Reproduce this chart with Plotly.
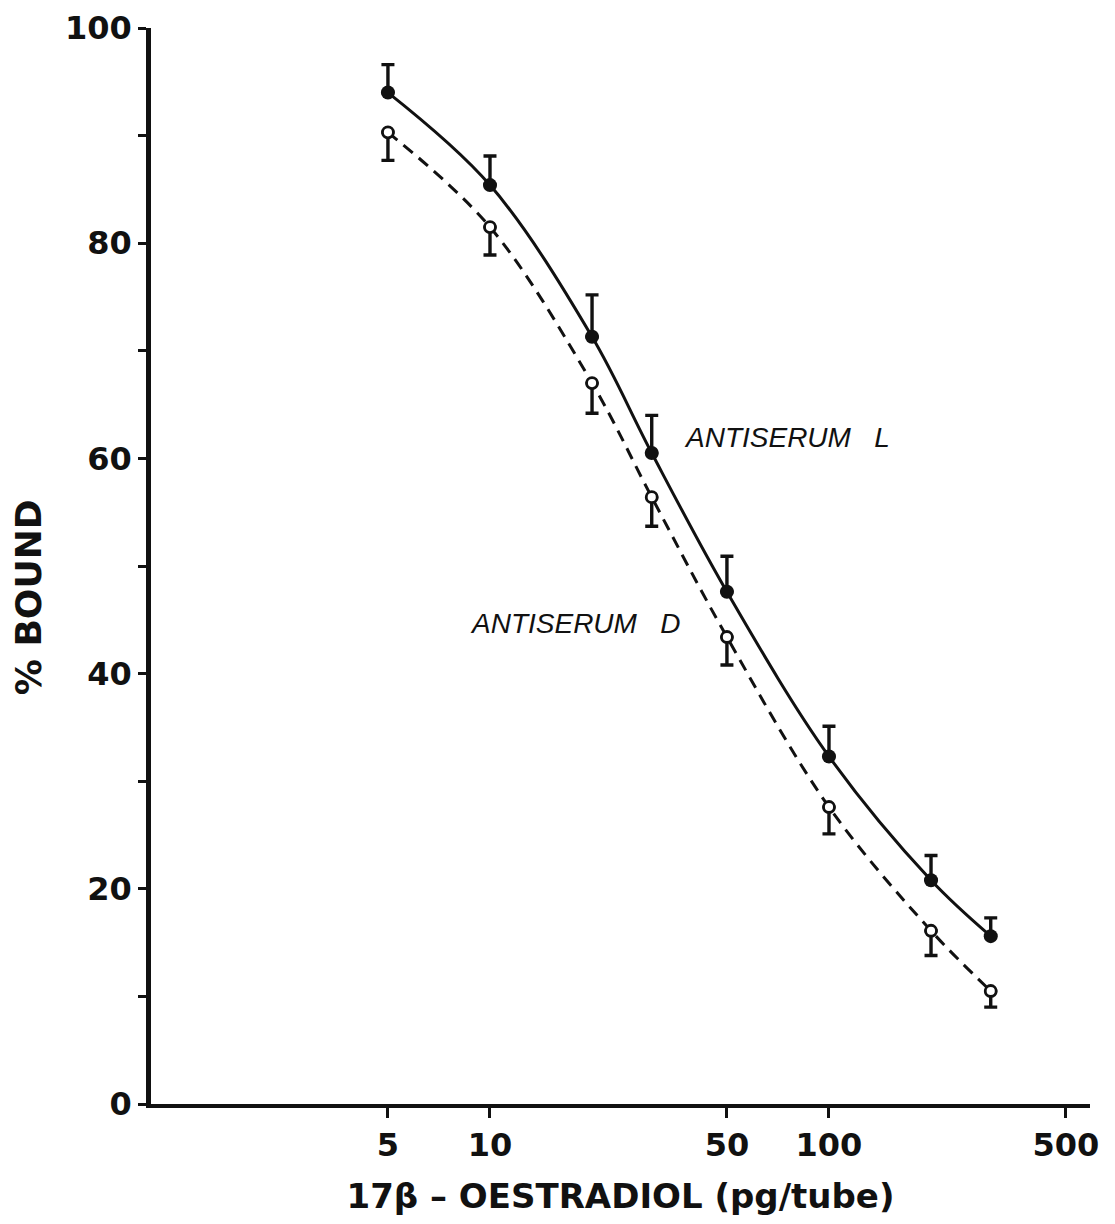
import plotly.graph_objects as go

# ---- data ----
dose = [5, 10, 20, 30, 50, 100, 200, 300]          # pg/tube
bound_L = [94.0, 85.4, 71.3, 60.5, 47.6, 32.3, 20.8, 15.6]   # Antiserum L (% bound)
err_L = [2.6, 2.7, 3.9, 3.5, 3.3, 2.8, 2.3, 1.7]
bound_D = [90.3, 81.5, 67.0, 56.4, 43.4, 27.6, 16.1, 10.5]   # Antiserum D (% bound)
err_D = [2.6, 2.6, 2.8, 2.7, 2.6, 2.5, 2.3, 1.5]

x_tick_vals = [5, 10, 50, 100, 500]
x_tick_text = ["5", "10", "50", "100", "500"]
y_tick_vals = [0, 10, 20, 30, 40, 50, 60, 70, 80, 90, 100]
y_tick_text = ["0", "", "20", "", "40", "", "60", "", "80", "", "100"]

label_L = "ANTISERUM\u00a0\u00a0\u00a0L"
label_D = "ANTISERUM\u00a0\u00a0\u00a0D"
x_title = "17\u03b2 \u2013 OESTRADIOL (pg/tube)"
y_title = "% BOUND"

INK = "#111111"
BOLD = dict(family="DejaVu Sans", color=INK, weight="bold")

fig = go.Figure()

fig.add_trace(go.Scatter(
    x=dose, y=bound_L, mode="lines+markers", name="Antiserum L",
    line=dict(color=INK, width=3, shape="spline", smoothing=1.0),
    marker=dict(symbol="circle", size=14, color=INK),
    error_y=dict(type="data", symmetric=False, array=err_L,
                 arrayminus=[0] * len(err_L), color=INK, thickness=3.4, width=6.5),
))

fig.add_trace(go.Scatter(
    x=dose, y=bound_D, mode="lines+markers", name="Antiserum D",
    line=dict(color=INK, width=3, dash="12px,8px", shape="spline", smoothing=1.0),
    marker=dict(symbol="circle", size=11, color="white", line=dict(color=INK, width=2.8)),
    error_y=dict(type="data", symmetric=False, array=[0] * len(err_D),
                 arrayminus=err_D, color=INK, thickness=3.4, width=6.5),
))

fig.update_layout(
    width=1115, height=1224, autosize=False,
    margin=dict(l=151, r=25, t=28, b=120, autoexpand=False),
    paper_bgcolor="white", plot_bgcolor="white",
    showlegend=False,
    xaxis=dict(
        type="log", range=[0, 2.77],
        tickvals=x_tick_vals, ticktext=x_tick_text,
        ticks="outside", ticklen=10, tickwidth=3, tickcolor=INK,
        showline=True, linewidth=4, linecolor=INK,
        showgrid=False, zeroline=False,
        tickfont=dict(size=32, **BOLD),
        title=dict(text=x_title, font=dict(size=34, **BOLD), standoff=22),
        automargin=False,
    ),
    yaxis=dict(
        range=[0, 100],
        tickvals=y_tick_vals, ticktext=y_tick_text,
        ticks="outside", ticklen=8, tickwidth=3, tickcolor=INK,
        showline=True, linewidth=4.5, linecolor=INK,
        showgrid=False, zeroline=False,
        tickfont=dict(size=32, **BOLD),
        automargin=False,
    ),
    annotations=[
        dict(text=y_title, textangle=-90, xref="paper", yref="paper",
             x=-0.131, y=0.471, xanchor="center", yanchor="middle",
             showarrow=False, font=dict(size=36, **BOLD)),
        dict(text=label_L, xref="x", yref="y", x=1.566, y=61.9,
             xanchor="left", yanchor="middle", showarrow=False,
             font=dict(family="Liberation Sans", size=28, color=INK, style="italic")),
        dict(text=label_D, xref="x", yref="y", x=0.935, y=44.7,
             xanchor="left", yanchor="middle", showarrow=False,
             font=dict(family="Liberation Sans", size=28, color=INK, style="italic")),
    ],
)

fig.write_html("out.html")
